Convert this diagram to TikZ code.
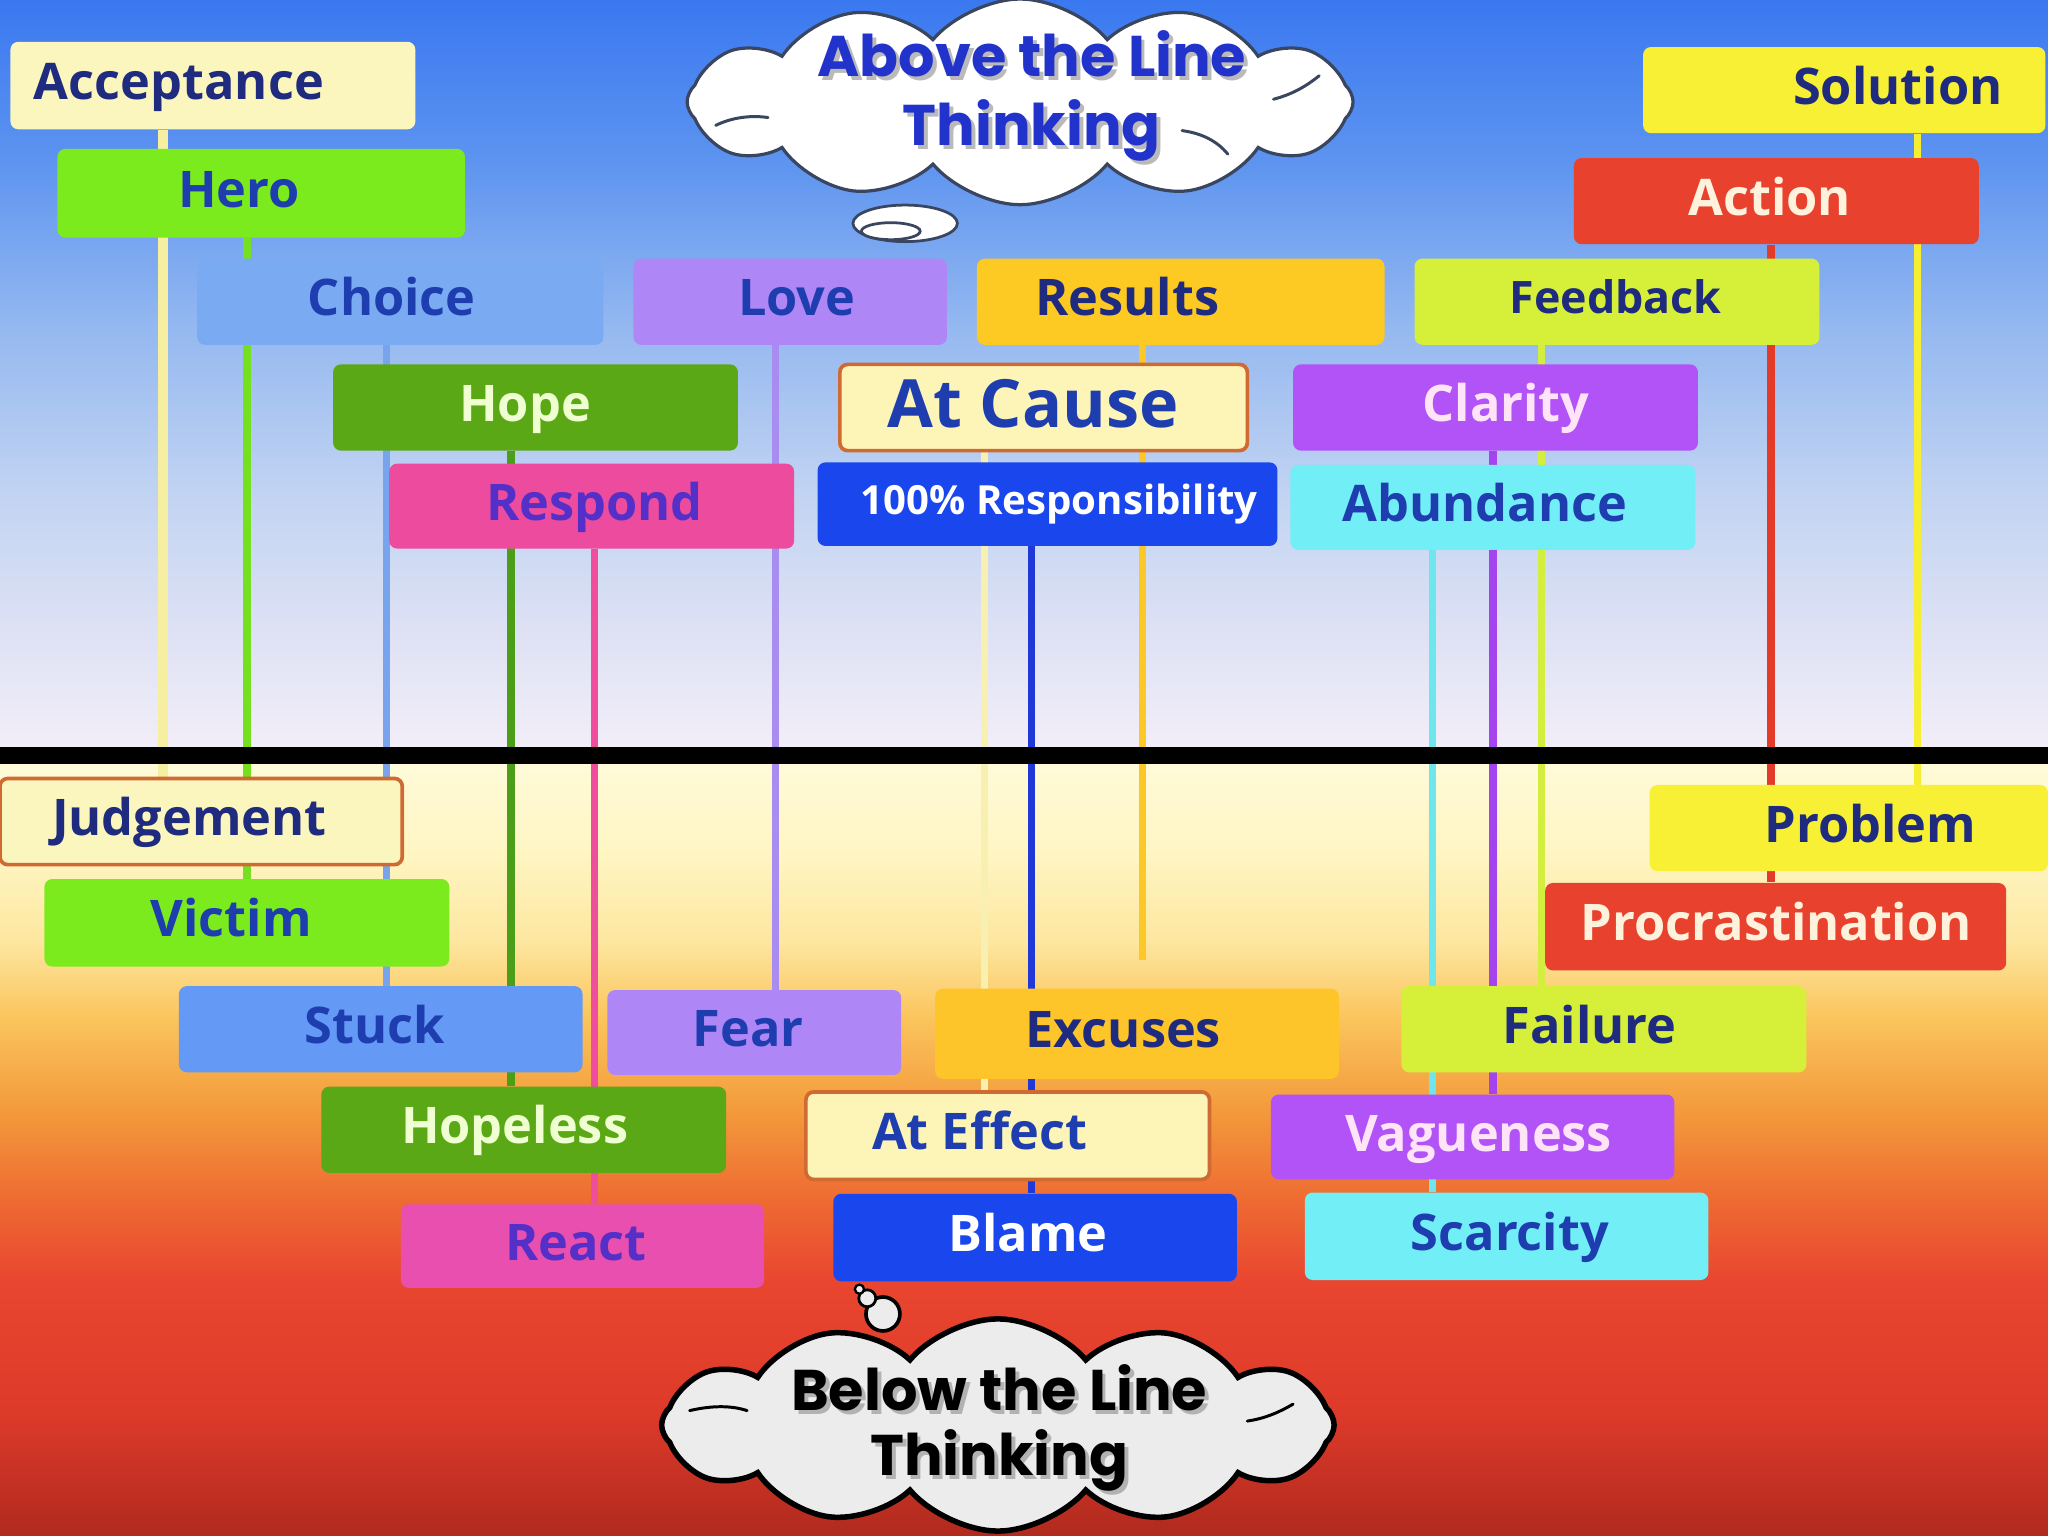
\documentclass[tikz,border=0pt]{standalone}
\usepackage{fontspec}
\setmainfont{Open Sans}
\newfontfamily\titlefont{Poppins}
\usetikzlibrary{shapes.symbols}
\pgfdeclarelayer{bgl}
\pgfdeclarelayer{connl}
\pgfsetlayers{bgl,connl,main}

% background stops
\definecolor{g00}{HTML}{3A78F0}
\definecolor{g01}{HTML}{5C93F0}
\definecolor{g02}{HTML}{94B8F0}
\definecolor{g03}{HTML}{C2D4F2}
\definecolor{g04}{HTML}{DDE1F4}
\definecolor{g05}{HTML}{F2EEF8}
\definecolor{g06}{HTML}{FFFAD8}
\definecolor{g07}{HTML}{FFF6C4}
\definecolor{g08}{HTML}{FDE7A0}
\definecolor{g09}{HTML}{FBC45C}
\definecolor{g10}{HTML}{F39A3C}
\definecolor{g11}{HTML}{EE6A32}
\definecolor{g12}{HTML}{E94630}
\definecolor{g13}{HTML}{DE3A2A}
\definecolor{g14}{HTML}{B02A1E}
\pgfdeclareverticalshading{skyshade}{100bp}{%
color(0bp)=(g14); color(25bp)=(g14); color(29.08bp)=(g13); color(33.33bp)=(g12);
color(35.88bp)=(g11); color(38.86bp)=(g10); color(41.84bp)=(g09); color(44.39bp)=(g08);
color(47.36bp)=(g07); color(50.09bp)=(g06); color(50.68bp)=(g05); color(54.59bp)=(g04);
color(58.84bp)=(g03); color(64.37bp)=(g02); color(69.9bp)=(g01); color(75bp)=(g00);
color(100bp)=(g00)}

% box fills
\definecolor{fAcc}{HTML}{FBF5BE}
\definecolor{fGreen}{HTML}{7CEB1E}
\definecolor{fChoice}{HTML}{79AAF2}
\definecolor{fLove}{HTML}{AE86F6}
\definecolor{fRes}{HTML}{FDC923}
\definecolor{fFee}{HTML}{D6F03A}
\definecolor{fSol}{HTML}{F8F034}
\definecolor{fAct}{HTML}{E8412E}
\definecolor{fHope}{HTML}{5BA816}
\definecolor{fCause}{HTML}{FDF4B8}
\definecolor{fCla}{HTML}{B153F7}
\definecolor{fResp}{HTML}{EC4B9E}
\definecolor{fBlue}{HTML}{1A46EE}
\definecolor{fAbu}{HTML}{72EEF6}
\definecolor{fStuck}{HTML}{6499F5}
\definecolor{fExc}{HTML}{FDC52A}
\definecolor{fReact}{HTML}{E94FAE}
\definecolor{bOr}{HTML}{CF6A32}
% text colours
\definecolor{tNavy}{HTML}{1F2B7E}
\definecolor{tBlue}{HTML}{1E3EB0}
\definecolor{tPurp}{HTML}{5530C8}
\definecolor{tCream}{HTML}{EFFFD2}
\definecolor{tPeach}{HTML}{FFF2DC}
\definecolor{tPink}{HTML}{FFE4F8}
\definecolor{tTitle}{HTML}{2233CC}
% line colours
\definecolor{lAcc}{HTML}{F6EEA0}
\definecolor{lHero}{HTML}{74E020}
\definecolor{lChoice}{HTML}{78A4EE}
\definecolor{lHope}{HTML}{4C9E18}
\definecolor{lResp}{HTML}{EE4E9C}
\definecolor{lLove}{HTML}{A88CF0}
\definecolor{lAtC}{HTML}{F8F0B0}
\definecolor{lResB}{HTML}{2038D8}
\definecolor{lRes}{HTML}{FCC828}
\definecolor{lAbu}{HTML}{6EE6EE}
\definecolor{lCla}{HTML}{A444EE}
\definecolor{lFee}{HTML}{D4EE40}
\definecolor{lAct}{HTML}{E43A2A}
\definecolor{lSol}{HTML}{F6EE30}
\definecolor{cloudline}{HTML}{3A4660}
\definecolor{cloudgrey}{HTML}{ECECEC}

\tikzset{
 boxs/.style={rectangle, rounded corners=0.12cm, inner sep=0pt, draw=none},
 bord/.style={draw=bOr, line width=1.6pt},
 lbl/.style={inner sep=0pt, text height=15.7pt, text depth=0pt, font=\fontsize{22}{26}\selectfont\bfseries},
 lblsmall/.style={text height=13.9pt, font=\fontsize{19.5}{23}\selectfont\bfseries},
 lblbig/.style={text height=20.7pt, font=\fontsize{29}{34}\selectfont\bfseries},
 lblresp/.style={text height=12.5pt, font=\fontsize{17.5}{21}\selectfont\bfseries},
 conn/.style={line width=0.11cm},
 ttl/.style={inner sep=0pt, text height=16.8pt, text depth=0pt, font=\titlefont\fontsize{25}{30}\selectfont\bfseries},
 curl/.style={line width=1.3pt, line cap=round},
}

% name, x1, y1, x2, y2, box options, label options, label x, text
\newcommand\bx[9]{%
 \node[boxs,#6,minimum width={(#4-#2)*0.02cm},minimum height={(#5-#3)*0.02cm}] (#1) at ({(#2+#4)/2},{(#3+#5)/2}) {};
 \node[lbl,#7] at (#8,{(#3+#5)/2-3}) {#9};}

\begin{document}
\begin{tikzpicture}[x=0.02cm,y=-0.02cm]
\useasboundingbox (0,0) rectangle (1568,1176);
\begin{pgfonlayer}{bgl}
\shade[shading=skyshade] (0,0) rectangle (1568,1176);
\end{pgfonlayer}

% ---------- above the line ----------
\bx{acc}{8}{32}{318}{99}{fill=fAcc}{tNavy}{137}{Acceptance}
\bx{hero}{44}{114}{356}{182}{fill=fGreen}{tBlue}{183}{Hero}
\bx{choice}{151}{198}{462}{264}{fill=fChoice}{tBlue}{300}{Choice}
\bx{love}{485}{198}{725}{264}{fill=fLove}{tBlue}{610}{Love}
\bx{results}{748}{198}{1060}{264}{fill=fRes}{tNavy}{863}{Results}
\bx{feedback}{1083}{198}{1393}{264}{fill=fFee}{tNavy,lblsmall}{1237}{Feedback}
\bx{solution}{1258}{36}{1566}{102}{fill=fSol}{tNavy}{1453}{Solution}
\bx{action}{1205}{121}{1515}{187}{fill=fAct}{tPeach}{1355}{Action}
\bx{hope}{255}{279}{565}{345}{fill=fHope}{tCream}{402}{Hope}
\bx{atcause}{643}{279}{955}{345}{fill=fCause,bord}{tBlue,lblbig}{791}{At Cause}
\bx{clarity}{990}{279}{1300}{345}{fill=fCla}{tPink}{1153}{Clarity}
\bx{respond}{298}{355}{608}{420}{fill=fResp}{tPurp}{455}{Respond}
\bx{resp100}{626}{354}{978}{418}{fill=fBlue}{white,lblresp}{811}{100\% Responsibility}
\bx{abund}{988}{356}{1298}{421}{fill=fAbu}{tBlue}{1137}{Abundance}

% ---------- below the line ----------
\bx{judg}{0}{596}{308}{662}{fill=fAcc,bord}{tNavy}{145}{Judgement}
\bx{victim}{34}{673}{344}{740}{fill=fGreen}{tBlue}{177}{Victim}
\bx{problem}{1263}{601}{1568}{667}{fill=fSol}{tNavy}{1432}{Problem}
\bx{procr}{1183}{676}{1536}{743}{fill=fAct}{tPeach}{1360}{Procrastination}
\bx{stuck}{137}{755}{446}{821}{fill=fStuck}{tBlue}{287}{Stuck}
\bx{fear}{465}{758}{690}{823}{fill=fLove}{tBlue}{573}{Fear}
\bx{excuses}{716}{757}{1025}{826}{fill=fExc}{tNavy}{860}{Excuses}
\bx{failure}{1073}{755}{1383}{821}{fill=fFee}{tNavy}{1217}{Failure}
\bx{hopeless}{246}{832}{556}{898}{fill=fHope}{tCream}{394}{Hopeless}
\bx{ateffect}{617}{836}{926}{903}{fill=fCause,bord}{tBlue}{750}{At Effect}
\bx{vague}{973}{838}{1282}{903}{fill=fCla}{tPink}{1132}{Vagueness}
\bx{react}{307}{922}{585}{986}{fill=fReact}{tPurp}{441}{React}
\bx{blame}{638}{914}{947}{981}{fill=fBlue}{white}{787}{Blame}
\bx{scarcity}{999}{913}{1308}{980}{fill=fAbu}{tBlue}{1156}{Scarcity}

% ---------- connectors ----------
\begin{pgfonlayer}{connl}
\draw[conn,lAcc,line width=0.15cm] (acc.south -| 125,0) -- (judg.north -| 125,0);
\draw[conn,lHero,line width=0.13cm] (hero.south -| 189,0) -- (victim.north -| 189,0);
\draw[conn,lChoice] (choice.south -| 296,0) -- (stuck.north -| 296,0);
\draw[conn,lHope,line width=0.12cm] (hope.south -| 391,0) -- (hopeless.north -| 391,0);
\draw[conn,lResp] (respond.south -| 455,0) -- (react.north -| 455,0);
\draw[conn,lLove] (love.south -| 594,0) -- (fear.north -| 594,0);
\draw[conn,lAtC] (atcause.south -| 754,0) -- (ateffect.north -| 754,0);
\draw[conn,lResB] (resp100.south -| 790,0) -- (blame.north -| 790,0);
\coordinate (resend) at (875,735);
\draw[conn,lRes] (results.south -| 875,0) -- (resend);
\draw[conn,lAbu] (abund.south -| 1097,0) -- (scarcity.north -| 1097,0);
\draw[conn,lCla] (clarity.south -| 1143,0) -- (vague.north -| 1143,0);
\draw[conn,lFee] (feedback.south -| 1180,0) -- (failure.north -| 1180,0);
\draw[conn,lAct,line width=0.12cm] (action.south -| 1356,0) -- (procr.north -| 1356,0);
\draw[conn,lSol] (solution.south -| 1468,0) -- (problem.north -| 1468,0);
% the line
\fill[black] (0,572) rectangle (1568,585);
\end{pgfonlayer}

% ---------- clouds ----------
\node[cloud, cloud puffs=12, cloud puff arc=100, aspect=3.2, draw=cloudline, fill=white,
 line width=1.4pt, minimum width=10.2cm, minimum height=3.15cm] (acloud) at (781,78) {};
\draw[cloudline, curl] (548,96) .. controls (560,90) and (575,88) .. (588,90);
\draw[cloudline, curl] (1010,58) .. controls (1000,66) and (990,72) .. (975,76);
\draw[cloudline, curl] (905,100) .. controls (920,102) and (932,108) .. (940,118);
\draw[cloudline, line width=1.2pt, fill=white] (693,171) ellipse [x radius=0.8cm, y radius=0.28cm];
\draw[cloudline, line width=1.2pt, fill=white] (682,177) ellipse [x radius=0.45cm, y radius=0.13cm];
\node[ttl, text=black!60, opacity=0.45] at (793,47) {Above the Line};
\node[ttl, text=black!60, opacity=0.45] at (793,100) {Thinking};
\node[ttl, text=tTitle] (at1) at (790,44) {Above the Line};
\node[ttl, text=tTitle] (at2) at (790,97) {Thinking};

\node[cloud, cloud puffs=12, cloud puff arc=100, aspect=3.2, draw=black, fill=cloudgrey,
 line width=2.4pt, minimum width=10.3cm, minimum height=3.25cm] (bcloud) at (764,1091) {};
\draw[black, curl] (528,1080) .. controls (545,1076) and (560,1076) .. (572,1080);
\draw[black, curl] (990,1075) .. controls (978,1082) and (968,1086) .. (955,1088);
\draw[black, line width=1.6pt, fill=cloudgrey] (676,1006) circle [radius=0.26cm];
\draw[black, line width=1.2pt, fill=cloudgrey] (664,994) circle [radius=0.13cm];
\draw[black, line width=1pt, fill=cloudgrey] (658,987) circle [radius=0.07cm];
\node[ttl, text=black!45, opacity=0.6] at (768,1068) {Below the Line};
\node[ttl, text=black!45, opacity=0.6] at (768,1118) {Thinking};
\node[ttl, text=black] (bt1) at (765,1065) {Below the Line};
\node[ttl, text=black] (bt2) at (765,1115) {Thinking};
\end{tikzpicture}
\end{document}
